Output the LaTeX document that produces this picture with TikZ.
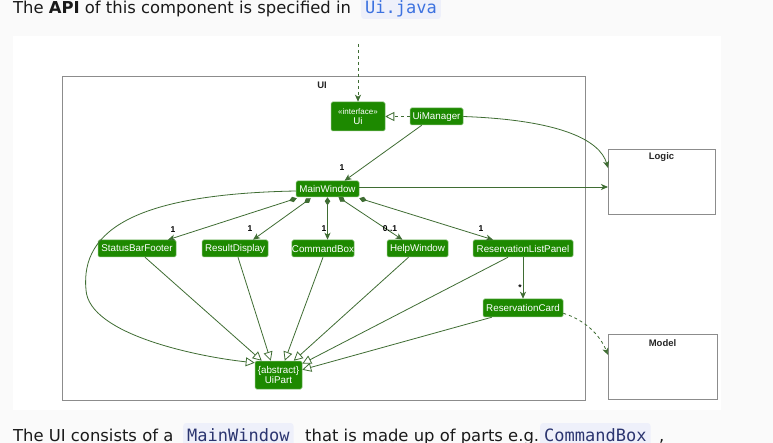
\documentclass[tikz,border=0pt]{standalone}
\usepackage{fontspec}
\setmainfont{Liberation Sans}
\newfontfamily\pagefont{DejaVu Sans}
\newfontfamily\codefont{DejaVu Sans Mono}
\usetikzlibrary{arrows.meta,calc}
\definecolor{uigreen}{HTML}{1D8900}
\definecolor{arrowc}{HTML}{3F6D33}
\definecolor{pagebg}{HTML}{FAFAFA}
\definecolor{codebg}{HTML}{EEF0FA}
\definecolor{codeblue}{HTML}{3D72E0}
\definecolor{codenavy}{HTML}{2B3570}
\definecolor{bodytext}{HTML}{1A1A1A}
\begin{document}
\begin{tikzpicture}[x=1pt,y=-1pt,
  cls/.style={fill=uigreen, draw=uigreen!55!white, line width=0.5pt, rounded corners=1.5pt,
    text=white, font=\fontsize{9.8}{11}\selectfont, inner sep=0pt, align=center},
  pkg/.style={draw=black!45, line width=0.9pt},
  arr/.style={draw=arrowc, line width=0.8pt},
  tohead/.style={-{Stealth[length=7pt,width=6pt,inset=2pt]}},
  comp/.style={{Diamond[length=8pt,width=5.5pt]}-{Stealth[length=7pt,width=6pt,inset=2pt]}},
  inh/.style={-{Triangle[open,length=9pt,width=9pt,fill=white]}},
  mult/.style={font=\fontsize{8.5}{10}\selectfont\bfseries, text=black, inner sep=0pt},
  pkglabel/.style={font=\fontsize{9.5}{11}\selectfont\bfseries, text=black!85, inner sep=0pt},
  body/.style={font=\pagefont\fontsize{16.4}{18}\selectfont, text=bodytext, inner sep=0pt, anchor=base west},
  code/.style={font=\codefont\fontsize{17}{20}\selectfont, text=codeblue, fill=codebg,
    rounded corners=3pt, inner xsep=4pt, inner ysep=1pt, text height=17pt, text depth=4.5pt, anchor=base west}
]
\useasboundingbox (0,0) rectangle (773,443);
\clip (0,0) rectangle (773,443);
\fill[pagebg] (0,0) rectangle (773,443);
\fill[white] (13,36) rectangle (721,410);

% page text
\node[body] (t1) at (13,13.5) {The \textbf{API} of this component is specified in};
\node[code] (c1) at (361,13.5) {Ui.java};
\node[body] (b1) at (13,441) {The UI consists of a};
\node[code, text=codenavy] (c2) at (183,441) {MainWindow};
\node[body] (b2) at (305,441) {that is made up of parts e.g.};
\node[code, text=codenavy] (c3) at (540,441) {CommandBox};
\node[body] (b3) at (659,441) {,};

% package frame
\draw[pkg] (62,76) rectangle (585,400);
\node[pkglabel] (uilbl) at (322,85) {UI};

% external boxes
\draw[pkg, line width=0.8pt] (608,149) rectangle (715,214);
\coordinate (logicNW) at (608,149);
\node[pkglabel] (logiclbl) at (661.5,157) {Logic};
\draw[pkg, line width=0.8pt] (608,334) rectangle (717,399);
\coordinate (modelNW) at (608,334);
\node[pkglabel] (modellbl) at (662.5,343) {Model};

% classes
\node[cls, minimum width=54pt, minimum height=29pt] (ui) at (358,116.5)
  {{\fontsize{8}{9}\selectfont «interface»}\\[-1pt]Ui};
\node[cls, minimum width=53pt, minimum height=17pt] (uim) at (436.5,116.5) {UiManager};
\node[cls, minimum width=63pt, minimum height=16pt] (mw) at (327.5,189) {MainWindow};
\node[cls, minimum width=78pt, minimum height=17pt] (sbf) at (137,248.5) {StatusBarFooter};
\node[cls, minimum width=66pt, minimum height=17pt] (rd) at (235,248.5) {ResultDisplay};
\node[cls, minimum width=62pt, minimum height=17pt] (cb) at (323,248.5) {CommandBox};
\node[cls, minimum width=61pt, minimum height=17pt] (hw) at (417.5,248.5) {HelpWindow};
\node[cls, minimum width=100pt, minimum height=17pt] (rlp) at (523,248.5) {ReservationListPanel};
\node[cls, minimum width=80pt, minimum height=18pt] (rc) at (523,308) {ReservationCard};
\node[cls, minimum width=47pt, minimum height=28pt] (uip) at (278.5,375)
  {\{abstract\}\\[-1pt]UiPart};

% connectors
\coordinate (topin) at (358,44);
\draw[arr, dashed, tohead] (topin) -- (ui.north);
\draw[arr, dashed, inh] (uim.west) -- (ui.east);
\draw[arr, tohead] (uim.east) .. controls (560,120) and (600,140) .. ($(logicNW)+(0,19)$);
\draw[arr, tohead] ($(uim.south west)+(12,0)$) -- ($(mw.north)+(17,0)$);
\node[mult] (m0) at (342,168) {1};
\draw[arr, tohead] ($(mw.east)+(0,-2)$) -- ($(logicNW)+(0,38)$);

\draw[arr, comp] ($(mw.south west)+(1,1)$) -- ($(sbf.north)+(31,0)$);
\node[mult] (m1) at (173,230) {1};
\draw[arr, comp] ($(mw.south west)+(15,1)$) -- ($(rd.north)+(18,0)$);
\node[mult] (m2) at (250,229) {1};
\draw[arr, comp] (mw.south) -- (mw.south |- cb.north);
\node[mult] (m3) at (324,229) {1};
\draw[arr, comp] ($(mw.south)+(11,0)$) -- ($(hw.north)+(-15,0)$);
\node[mult] (m4) at (390,229) {0..1};
\draw[arr, comp] ($(mw.south east)+(0,1)$) -- ($(rlp.north)+(-30,0)$);
\node[mult] (m5) at (481,229) {1};

\draw[arr, tohead] (rlp.south) -- (rc.north);
\node[mult] (m6) at (520,288) {*};
\draw[arr, dashed, tohead] ($(rc.south east)+(0,-4)$) .. controls (585,320) and (600,335) .. ($(modelNW)+(0,21)$);

\draw[arr, inh] ($(mw.west)+(0,2)$) .. controls (140,194) and (80,228) .. (86,290)
  .. controls (89,335) and (200,357) .. ($(uip.north west)+(0,2)$);
\draw[arr, inh] ($(sbf.south)+(8,0)$) -- ($(uip.north west)+(7,0)$);
\draw[arr, inh] ($(rd.south)+(3,0)$) -- ($(uip.north west)+(16,0)$);
\draw[arr, inh] (cb.south) -- ($(uip.north west)+(30,0)$);
\draw[arr, inh] ($(hw.south)+(-9,0)$) -- ($(uip.north west)+(39,0)$);
\draw[arr, inh] ($(rlp.south)+(-15,0)$) -- ($(uip.north east)+(0,3)$);
\draw[arr, inh] ($(rc.south west)+(9,0)$) -- ($(uip.north east)+(0,9)$);
\end{tikzpicture}
\end{document}
